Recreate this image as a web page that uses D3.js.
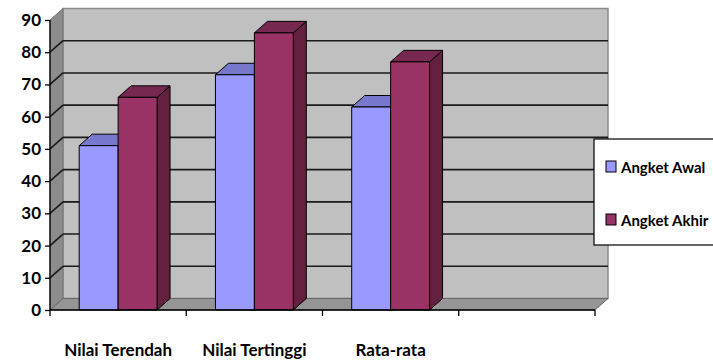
<!DOCTYPE html>
<html>
<head>
<meta charset="utf-8">
<script src="https://cdn.jsdelivr.net/npm/d3@7"></script>
<style>
  html, body { margin: 0; padding: 0; background: #fff; }
  svg { display: block; }
  text { font-family: Lato, "Open Sans", sans-serif; font-weight: bold; fill: #000; }
</style>
</head>
<body>
<svg id="chart" width="713" height="362"></svg>
<script>
// Categories (the fourth slot is an empty category on the axis)
const categories = ["Nilai Terendah", "Nilai Tertinggi", "Rata-rata", ""];
const seriesNames = ["Angket Awal", "Angket Akhir"];
const angketAwal = [51, 73, 63, null];
const angketAkhir = [66, 86, 77, null];
const yTicks = [0, 10, 20, 30, 40, 50, 60, 70, 80, 90];

const series = [
  { name: seriesNames[0], values: angketAwal, front: "#9999ff", topFill: "#7777cc", side: "#5c5ca8" },
  { name: seriesNames[1], values: angketAkhir, front: "#993366", topFill: "#772850", side: "#64203f" }
];

const svg = d3.select("#chart");

// 3D depth offset of the box
const DX = 13, DY = 11.5;
const plotLeft = 50, plotRight = 595, plotBottom = 310, plotTop = 20;

const y = d3.scaleLinear().domain([0, 90]).range([plotBottom, plotTop]);
const x = d3.scaleBand().domain(categories).range([plotLeft, plotRight]).paddingInner(0).paddingOuter(0);
const xs = d3.scaleBand().domain(seriesNames).range([0, x.bandwidth()]).paddingInner(0).paddingOuter(0.75);

const poly = pts => pts.map(p => p.join(",")).join(" ");

// Back wall
svg.append("rect")
  .attr("x", plotLeft + DX).attr("y", y(90) - DY)
  .attr("width", plotRight - plotLeft).attr("height", y(0) - y(90))
  .attr("fill", "#c0c0c0").attr("stroke", "#8a8a8a").attr("stroke-width", 1.5);

// Side wall
svg.append("polygon")
  .attr("points", poly([[plotLeft, y(90)], [plotLeft + DX, y(90) - DY], [plotLeft + DX, y(0) - DY], [plotLeft, y(0)]]))
  .attr("fill", "#8c8c8c").attr("stroke", "#777").attr("stroke-width", 1);

// Floor
svg.append("polygon")
  .attr("points", poly([[plotLeft, y(0)], [plotLeft + DX, y(0) - DY], [plotRight + DX, y(0) - DY], [plotRight, y(0)]]))
  .attr("fill", "#959595").attr("stroke", "#666").attr("stroke-width", 1);

// Gridlines on back wall and side wall
const grid = svg.append("g").attr("stroke", "#1a1a1a").attr("stroke-width", 1.6).attr("fill", "none");
yTicks.filter(t => t > 0 && t < 90).forEach(t => {
  grid.append("line")
    .attr("x1", plotLeft + DX).attr("x2", plotRight + DX)
    .attr("y1", y(t) - DY).attr("y2", y(t) - DY);
  grid.append("line")
    .attr("x1", plotLeft).attr("x2", plotLeft + DX)
    .attr("y1", y(t)).attr("y2", y(t) - DY);
});

// Bars
categories.forEach((c, ci) => {
  series.forEach(s => {
    const v = s.values[ci];
    if (v == null) return;
    const x0 = x(c) + xs(s.name), w = xs.bandwidth();
    const yv = y(v), y0 = y(0);
    const g = svg.append("g").attr("stroke", "#000").attr("stroke-width", 1).attr("stroke-linejoin", "round");
    g.append("polygon").attr("fill", s.side)
      .attr("points", poly([[x0 + w, yv], [x0 + w + DX, yv - DY], [x0 + w + DX, y0 - DY], [x0 + w, y0]]));
    g.append("polygon").attr("fill", s.topFill)
      .attr("points", poly([[x0, yv], [x0 + DX, yv - DY], [x0 + w + DX, yv - DY], [x0 + w, yv]]));
    g.append("rect").attr("fill", s.front)
      .attr("x", x0).attr("y", yv).attr("width", w).attr("height", y0 - yv);
  });
});

// Value axis
const yAxis = d3.axisLeft(y).tickValues(yTicks).tickSize(5).tickPadding(4);
const gy = svg.append("g").attr("transform", `translate(${plotLeft},0)`).call(yAxis);
gy.select(".domain").attr("stroke", "#000").attr("stroke-width", 1.3).attr("d", `M0,${y(90)}V${y(0)}`);
gy.selectAll(".tick line").attr("stroke", "#000").attr("stroke-width", 1.3);
gy.selectAll(".tick text").style("font-size", "17px").style("font-family", "Lato, sans-serif").style("font-weight", "bold").attr("fill", "#000");

// Category axis
const xAxis = d3.axisBottom(x).tickSize(0).tickFormat(d => d);
const gx = svg.append("g").attr("transform", `translate(0,${plotBottom})`).call(xAxis);
gx.select(".domain").attr("stroke", "#000").attr("stroke-width", 1.3).attr("d", `M${plotLeft},0H${plotRight}`);
gx.selectAll(".tick text").attr("y", 46).attr("dy", 0)
  .style("font-size", "17px").style("font-family", "Lato, sans-serif").style("font-weight", "bold").attr("fill", "#000");
const bounds = categories.map(c => x(c)).concat([plotRight]);
gx.selectAll(".cat-tick").data(bounds).enter().append("line")
  .attr("x1", d => d).attr("x2", d => d).attr("y1", 0).attr("y2", 6)
  .attr("stroke", "#000").attr("stroke-width", 1.3);

// Legend
const lg = svg.append("g");
lg.append("rect").attr("x", 594).attr("y", 139).attr("width", 130).attr("height", 106)
  .attr("fill", "#fff").attr("stroke", "#000").attr("stroke-width", 1.2);
series.forEach((s, i) => {
  const cy = 166.5 + i * 53;
  lg.append("rect").attr("x", 606).attr("y", cy - 5.5).attr("width", 10).attr("height", 11)
    .attr("fill", s.front).attr("stroke", "#000").attr("stroke-width", 1);
  lg.append("text").attr("x", 621).attr("y", cy + 6)
    .style("font-size", "15px").text(s.name);
});
</script>
</body>
</html>
